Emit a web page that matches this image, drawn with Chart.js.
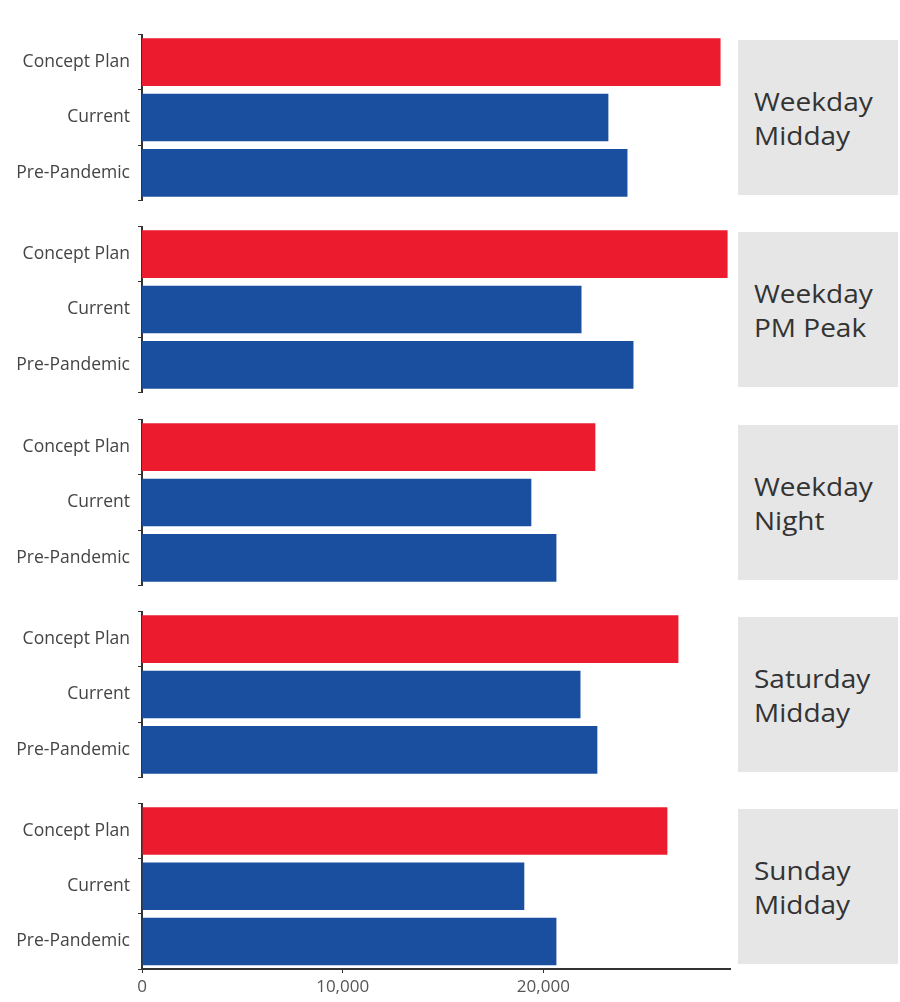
<!DOCTYPE html>
<html>
<head>
<meta charset="utf-8">
<title>Service hours by period</title>
<script src="https://cdn.jsdelivr.net/npm/chart.js@4.4.1/dist/chart.umd.min.js"></script>
<style>
    body { margin: 0; background: #fff; }
    #wrap { position: relative; width: 900px; height: 1002px; overflow: hidden; }
    #wrap canvas { position: absolute; left: 0; }
    .strip {
        position: absolute; left: 738px; width: 160px;
        background: #e6e6e6; color: #333;
        display: flex; align-items: center; box-sizing: border-box; padding-left: 16px;
    }
    .strip span {
        font-family: "Open Sans", sans-serif; font-size: 25px; font-weight: 500; line-height: 34px;
        display: inline-block; transform: scaleX(1.12); transform-origin: left center;
    }
</style>
</head>
<body>
<div id="wrap"></div>
<script>
// facet labels, one per time period
var periods = [['Weekday', 'Midday'], ['Weekday', 'PM Peak'], ['Weekday', 'Night'], ['Saturday', 'Midday'], ['Sunday', 'Midday']];
var scenarios = ['Concept Plan', 'Current', 'Pre-Pandemic'];

// values per period, same order as periods
var conceptPlan = [28830, 29180, 22590, 26730, 26180];
var current     = [23240, 21900, 19400, 21850, 19050];
var prePandemic = [24190, 24490, 20650, 22690, 20650];

var xTicks = [0, 10000, 20000];
var xMax = 29300;

var RED = '#ec1c2e';
var BLUE = '#1a4f9f';

var wrap = document.getElementById('wrap');
var panelTops = [34, 226, 419, 611, 803];
var panelHeight = 166;
var axisHeight = 34;

function makeChart(canvas, i, last) {
    var xAxis = {
        display: last,
        min: 0,
        max: xMax,
        afterBuildTicks: function(scale) {
            scale.ticks = xTicks.map(function(v) { return { value: v }; });
        },
        grid: { display: true, drawOnChartArea: false, drawTicks: true, tickLength: 4, color: '#333' },
        border: { display: true, color: '#333', width: 2 },
        ticks: {
            color: '#555',
            padding: 4,
            font: { family: 'Open Sans', size: 17 },
            callback: function(v) { return Number(v).toLocaleString('en-US'); }
        }
    };
    if (last) {
        xAxis.afterFit = function(scale) { scale.height = axisHeight; };
    }

    return new Chart(canvas.getContext('2d'), {
        type: 'bar',
        data: {
            labels: scenarios,
            datasets: [{
                data: [conceptPlan[i], current[i], prePandemic[i]],
                backgroundColor: [RED, BLUE, BLUE],
                borderWidth: 0,
                barPercentage: 0.86,
                categoryPercentage: 1
            }]
        },
        options: {
            indexAxis: 'y',
            responsive: false,
            maintainAspectRatio: false,
            animation: false,
            layout: { padding: { left: 0, right: 10, top: 0, bottom: 0 } },
            plugins: { legend: { display: false }, tooltip: { enabled: false } },
            scales: {
                x: xAxis,
                y: {
                    afterFit: function(scale) { scale.width = 142; },
                    grid: { display: true, drawOnChartArea: false, drawTicks: true, tickLength: 4, color: '#333' },
                    border: { display: true, color: '#333', width: 2 },
                    ticks: {
                        color: '#444',
                        padding: 8,
                        font: { family: 'Open Sans', size: 17.5 }
                    }
                }
            }
        }
    });
}

periods.forEach(function(label, i) {
    var last = i === periods.length - 1;
    var extra = last ? axisHeight : 0;

    var canvas = document.createElement('canvas');
    canvas.width = 740;
    canvas.height = panelHeight + extra;
    canvas.style.top = panelTops[i] + 'px';
    wrap.appendChild(canvas);

    // grey strip with the period name
    var strip = document.createElement('div');
    strip.className = 'strip';
    strip.style.top = (panelTops[i] + 6) + 'px';
    strip.style.height = '155px';
    strip.innerHTML = '<span>' + label.join('<br>') + '</span>';
    wrap.appendChild(strip);

    // first pass finds how much room the layout keeps around the plot;
    // second pass grows the canvas so the plot itself is panelHeight tall
    var chart = makeChart(canvas, i, last);
    var topOff = chart.chartArea.top;
    var botOff = canvas.height - chart.chartArea.bottom - extra;
    if (topOff > 0 || botOff > 0) {
        chart.destroy();
        canvas.width = 740;
        canvas.height = panelHeight + topOff + botOff + extra;
        canvas.style.top = (panelTops[i] - topOff) + 'px';
        makeChart(canvas, i, last);
    }
});
</script>
</body>
</html>
